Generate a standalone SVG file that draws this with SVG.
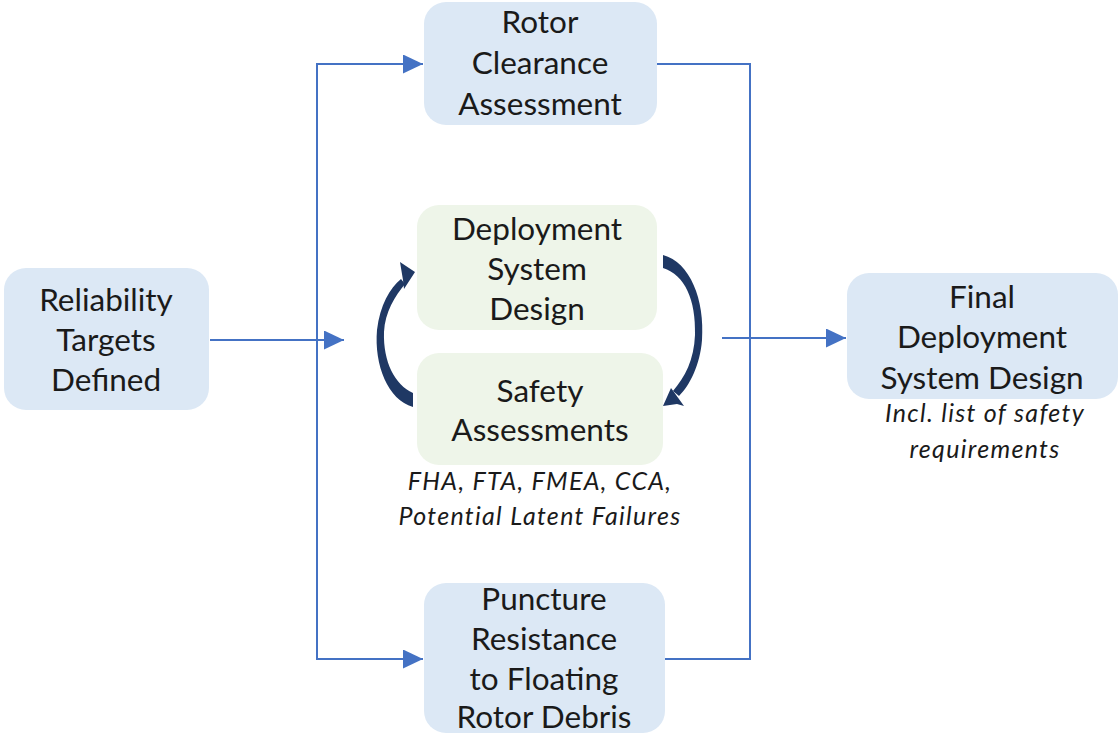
<svg xmlns="http://www.w3.org/2000/svg" width="1119" height="735" viewBox="0 0 1119 735">
<defs>
<marker id="ah" viewBox="0 0 10 10" refX="10" refY="5" markerWidth="20" markerHeight="19" markerUnits="userSpaceOnUse" orient="auto" preserveAspectRatio="none">
<path d="M0,0 L10,5 L0,10 Z" fill="#4472C4"/>
</marker>
<style>
.blue{fill:#DCE8F5}
.green{fill:#EEF5E9}
.t{font-family:Lato,"Open Sans",sans-serif;font-size:31.5px;fill:#1a1a1a;text-anchor:middle}
.it{font-family:Lato,"Open Sans",sans-serif;font-size:25px;font-style:italic;letter-spacing:1.3px;fill:#1a1a1a;text-anchor:middle}
.ln{fill:none;stroke:#4472C4;stroke-width:2}
.arc{fill:#1F3864}
</style>
</defs>
<rect width="1119" height="735" fill="#ffffff"/>
<g id="connectors">
<polyline class="ln" points="210,340 344,340" marker-end="url(#ah)"/>
<polyline class="ln" points="317,340 317,64 423,64" marker-end="url(#ah)"/>
<polyline class="ln" points="317,340 317,659 423,659" marker-end="url(#ah)"/>
<polyline class="ln" points="657,64 750,64 750,659 665,659"/>
<polyline class="ln" points="722,338 846,338" marker-end="url(#ah)"/>
<path class="arc" d="M413,407 C388,400 374,365 377,330 C380,305 390,288 401,279 L405,284 C395,296 385,312 384,332 C383,362 395,385 413,393 Z"/>
<path class="arc" d="M400,262 L415,272 L404,289 L403,280 Z"/>
<path class="arc" d="M663,255 C690,262 705,300 702,340 C700,365 690,385 679,396 L673,391 C685,377 694,360 695,335 C696,300 685,275 663,268 Z"/>
<path class="arc" d="M671,388 L684,406 L677,404 L663,406 Z"/>
</g>
<g id="reliability">
<rect class="blue" x="4" y="268" width="205" height="142" rx="22"/>
<text class="t" x="106" y="311">Reliability</text>
<text class="t" x="106" y="351">Targets</text>
<text class="t" x="106" y="391">Defined</text>
</g>
<g id="rotor">
<rect class="blue" x="424" y="2" width="233" height="123" rx="22"/>
<text class="t" x="540" y="33">Rotor</text>
<text class="t" x="540" y="74">Clearance</text>
<text class="t" x="540" y="115">Assessment</text>
</g>
<g id="deployment">
<rect class="green" x="417" y="205" width="240" height="125" rx="22"/>
<text class="t" x="537" y="240">Deployment</text>
<text class="t" x="537" y="280">System</text>
<text class="t" x="537" y="320">Design</text>
</g>
<g id="safety">
<rect class="green" x="417" y="353" width="246" height="112" rx="22"/>
<text class="t" x="540" y="402">Safety</text>
<text class="t" x="540" y="441">Assessments</text>
<text class="it" x="540" y="490">FHA, FTA, FMEA, CCA,</text>
<text class="it" x="540" y="525">Potential Latent Failures</text>
</g>
<g id="puncture">
<rect class="blue" x="424" y="583" width="241" height="150" rx="22"/>
<text class="t" x="544" y="610">Puncture</text>
<text class="t" x="544" y="650">Resistance</text>
<text class="t" x="544" y="690">to Floating</text>
<text class="t" x="544" y="728">Rotor Debris</text>
</g>
<g id="final">
<rect class="blue" x="847" y="273" width="271" height="126" rx="22"/>
<text class="t" x="982" y="308">Final</text>
<text class="t" x="982" y="348">Deployment</text>
<text class="t" x="982" y="389">System Design</text>
<text class="it" x="985" y="422">Incl. list of safety</text>
<text class="it" x="985" y="458">requirements</text>
</g>
</svg>
